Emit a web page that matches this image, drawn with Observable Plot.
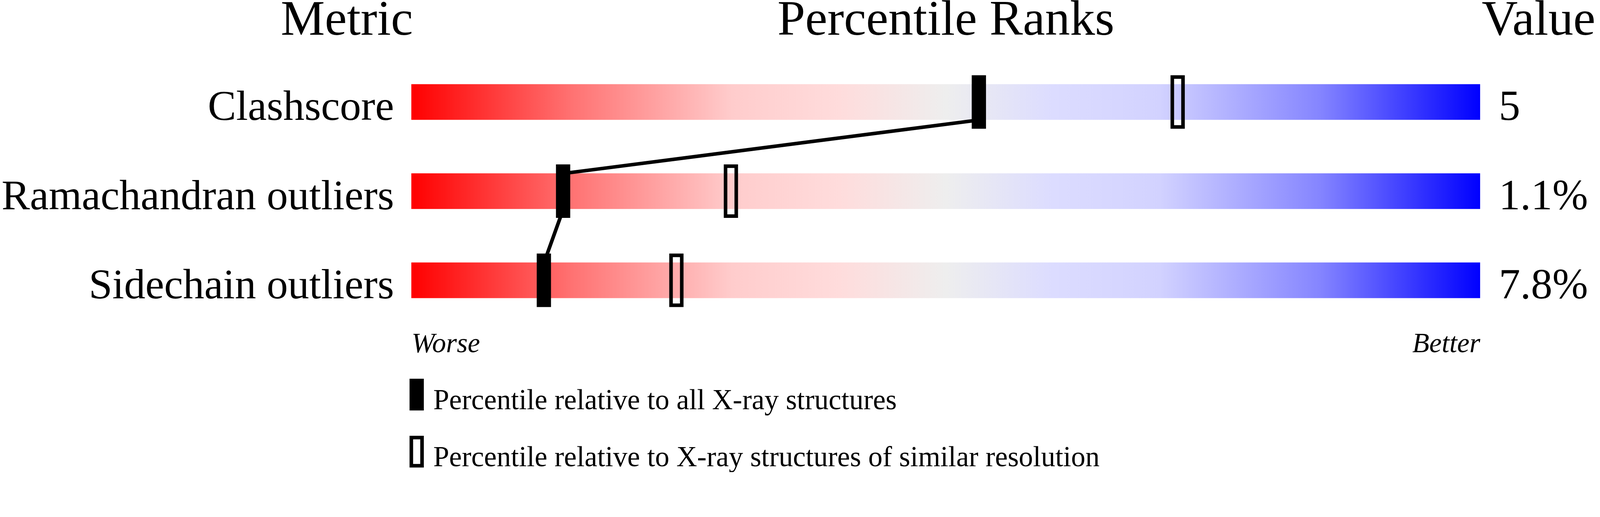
<!DOCTYPE html>
<html>
<head>
<meta charset="utf-8">
<script src="https://cdn.jsdelivr.net/npm/d3@7"></script>
<script src="https://cdn.jsdelivr.net/npm/@observablehq/plot@0.6"></script>
<style>
  html, body { margin: 0; padding: 0; background: white; overflow: hidden; }
</style>
</head>
<body>
<div id="chart"></div>
<script>
// ---- data ----
const metrics = ["Clashscore", "Ramachandran outliers", "Sidechain outliers"];
const valueLabels = ["5", "1.1%", "7.8%"];
const pctAll = [53.1, 14.2, 12.4];       // percentile relative to all X-ray structures
const pctSimilar = [71.7, 29.9, 24.8];   // percentile relative to similar resolution
const headers = ["Metric", "Percentile Ranks", "Value"];
const axisEnds = ["Worse", "Better"];
const legendLabels = [
  "Percentile relative to all X-ray structures",
  "Percentile relative to X-ray structures of similar resolution"
];

// ---- style constants ----
const serif = "Liberation Serif";
const H = 1324;
const barHalf = 0.2; // half bar height in row units
const gradStops = [
  [0, "#ff0000"], [0.15, "#ff7272"], [0.30, "#ffcccc"], [0.40, "#ffdcdc"],
  [0.50, "#eeeeee"], [0.60, "#dcdcff"], [0.70, "#d2d2ff"], [0.85, "#8585ff"], [1, "#0000ff"]
];

const rows = metrics.map((m, i) => ({metric: m, row: i, value: valueLabels[i], all: pctAll[i], similar: pctSimilar[i]}));
const linePts = [];
rows.forEach((r, i) => {
  if (i > 0) linePts.push({x: r.all, y: r.row - barHalf});
  if (i < rows.length - 1) linePts.push({x: r.all, y: r.row + barHalf});
});

const txt = (data, o) => Plot.text(data, {text: d => d, lineAnchor: "bottom", fontFamily: serif, fill: "black", ...o});

const svg = Plot.plot({
  width: 4485,
  height: H,
  marginTop: 0, marginRight: 0, marginBottom: 0, marginLeft: 0,
  x: {domain: [0, 100], range: [1153, 4149], axis: null},
  y: {domain: [0, 2], range: [286, 786], axis: null},
  style: {fontFamily: serif, background: "white"},
  marks: [
    // gradient bars
    Plot.rect(rows, {x1: () => 0, x2: () => 100, y1: "row", y2: "row", insetTop: -50, insetBottom: -50, fill: "url(#pctGrad)"}),
    // connecting line for "all" percentiles
    Plot.line(linePts, {x: "x", y: "y", stroke: "black", strokeWidth: 10, strokeLinejoin: "miter", strokeLinecap: "butt"}),
    // solid markers
    Plot.rect(rows, {x1: "all", x2: "all", y1: "row", y2: "row", insetLeft: -20, insetRight: -20, insetTop: -75, insetBottom: -75, fill: "black"}),
    // open markers
    Plot.rect(rows, {x1: "similar", x2: "similar", y1: "row", y2: "row", insetLeft: -15, insetRight: -15, insetTop: -70, insetBottom: -70, fill: "none", stroke: "black", strokeWidth: 10}),
    // row labels
    Plot.text(rows, {x: () => 0, y: "row", text: "metric", textAnchor: "end", lineAnchor: "bottom", dx: -49, dy: 50, fontSize: 119, fontFamily: serif, fill: "black"}),
    // value labels
    Plot.text(rows, {x: () => 100, y: "row", text: "value", textAnchor: "start", lineAnchor: "bottom", dx: 52, dy: 50, fontSize: 120, fontFamily: serif, fill: "black"}),
    // headers
    txt([headers[0]], {x: () => 0, frameAnchor: "top", textAnchor: "end", dx: 4, dy: 97, fontSize: 139}),
    txt([headers[1]], {x: () => 50, frameAnchor: "top", textAnchor: "middle", dy: 97, fontSize: 140}),
    txt([headers[2]], {x: () => 100, frameAnchor: "top", textAnchor: "start", dx: 4, dy: 97, fontSize: 140}),
    // worse / better
    txt([axisEnds[0]], {x: () => 0, frameAnchor: "top", textAnchor: "start", dy: 987, fontSize: 78, fontStyle: "italic"}),
    txt([axisEnds[1]], {x: () => 100, frameAnchor: "top", textAnchor: "end", dy: 987, fontSize: 78, fontStyle: "italic"}),
    // legend markers
    Plot.rect([legendLabels[0]], {x1: () => 0, x2: () => 0, insetLeft: -5, insetRight: -35, insetTop: 1062, insetBottom: H - 1151, fill: "black"}),
    Plot.rect([legendLabels[1]], {x1: () => 0, x2: () => 0, insetLeft: 0, insetRight: -30, insetTop: 1227, insetBottom: H - 1306, fill: "white", stroke: "black", strokeWidth: 10}),
    // legend labels
    txt([legendLabels[0]], {x: () => 0, frameAnchor: "top", textAnchor: "start", dx: 61, dy: 1147, fontSize: 80}),
    txt([legendLabels[1]], {x: () => 0, frameAnchor: "top", textAnchor: "start", dx: 61, dy: 1307, fontSize: 80})
  ]
});

// gradient definition
const defs = d3.select(svg).insert("defs", ":first-child");
const lg = defs.append("linearGradient").attr("id", "pctGrad").attr("x1", "0").attr("x2", "1").attr("y1", "0").attr("y2", "0");
gradStops.forEach(([o, c]) => lg.append("stop").attr("offset", o).attr("stop-color", c));

document.getElementById("chart").appendChild(svg);
</script>
</body>
</html>
